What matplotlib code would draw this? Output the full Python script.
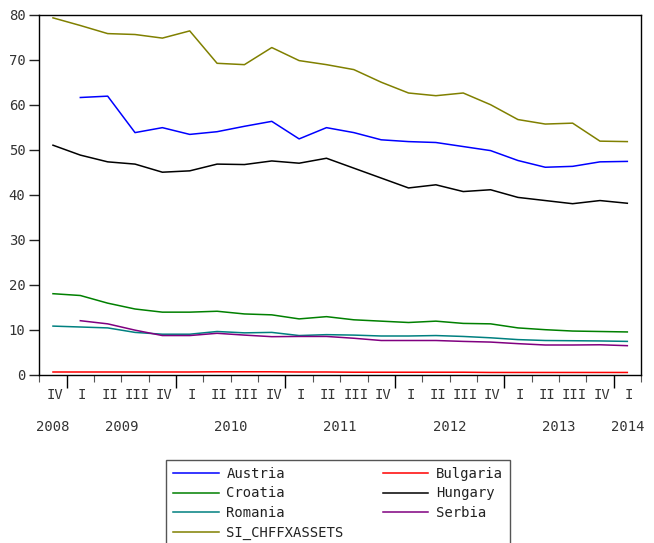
import numpy as np
import matplotlib
matplotlib.use("Agg")
import matplotlib.pyplot as plt

# ---- data ----
quarters = ["IV", "I", "II", "III", "IV", "I", "II", "III", "IV", "I", "II", "III",
            "IV", "I", "II", "III", "IV", "I", "II", "III", "IV", "I"]
years = ["2008", "2009", "2010", "2011", "2012", "2013", "2014"]
year_pos = [0, 2.5, 6.5, 10.5, 14.5, 18.5, 21]
year_bounds = [0.5, 4.5, 8.5, 12.5, 16.5, 20.5]

nan = np.nan
austria = [nan, 61.6, 61.9, 53.8, 54.9, 53.4, 54.0, 55.2, 56.3, 52.4, 54.9,
           53.8, 52.2, 51.8, 51.6, 50.7, 49.8, 47.6, 46.1, 46.3, 47.3, 47.4]
bulgaria = [0.6, 0.6, 0.6, 0.6, 0.6, 0.6, 0.65, 0.65, 0.65, 0.6, 0.6,
            0.55, 0.55, 0.55, 0.55, 0.55, 0.5, 0.5, 0.5, 0.5, 0.5, 0.5]
croatia = [18.0, 17.6, 15.9, 14.6, 13.9, 13.9, 14.1, 13.5, 13.3, 12.4, 12.9,
           12.2, 11.9, 11.6, 11.9, 11.4, 11.3, 10.4, 10.0, 9.7, 9.6, 9.5]
hungary = [51.0, 48.8, 47.3, 46.8, 45.0, 45.3, 46.8, 46.7, 47.5, 47.0, 48.1,
           45.9, 43.7, 41.5, 42.2, 40.7, 41.1, 39.4, 38.7, 38.0, 38.7, 38.1]
romania = [10.8, 10.6, 10.4, 9.4, 9.0, 9.0, 9.6, 9.3, 9.4, 8.7, 8.9,
           8.8, 8.6, 8.6, 8.7, 8.5, 8.2, 7.8, 7.6, 7.55, 7.5, 7.4]
serbia = [nan, 12.0, 11.3, 9.9, 8.7, 8.7, 9.2, 8.8, 8.45, 8.5, 8.5,
          8.1, 7.6, 7.6, 7.6, 7.4, 7.25, 6.9, 6.6, 6.6, 6.65, 6.45]
si_chff = [79.3, 77.6, 75.8, 75.6, 74.8, 76.4, 69.2, 68.9, 72.7, 69.8, 68.9,
           67.8, 65.0, 62.6, 62.0, 62.6, 60.0, 56.7, 55.7, 55.9, 51.9, 51.8]

series = [("Austria", austria, "#0000FF"),
          ("Bulgaria", bulgaria, "#FF0000"),
          ("Croatia", croatia, "#008000"),
          ("Hungary", hungary, "#000000"),
          ("Romania", romania, "#008080"),
          ("Serbia", serbia, "#800080"),
          ("SI_CHFFXASSETS", si_chff, "#808000")]

plt.rcParams['font.family'] = ['DejaVu Sans Mono']
W, H = 654, 543
fig = plt.figure(figsize=(W / 100, H / 100), dpi=100)
ax = fig.add_axes([39.3 / W, 1 - 374.7 / H, (641 - 39.3) / W, (374.7 - 14.7) / H])

x = np.arange(len(quarters))
handles = {}
for name, vals, col in series:
    ln, = ax.plot(x, vals, color=col, lw=1.1, label=name)
    handles[name] = ln

ax.set_xlim(-0.5, len(quarters) - 0.5)
ax.set_ylim(0, 80)
ax.set_yticks(np.arange(0, 81, 10))
ax.tick_params(axis='y', direction='out', length=7, width=1, labelsize=10,
               pad=3, colors='#222222', labelcolor='#333333')
for s in ax.spines.values():
    s.set_linewidth(1.0)

# x ticks: boundaries between quarters (minor), year boundaries (major)
ax.set_xticks(year_bounds)
ax.set_xticks(np.arange(-0.5, len(quarters) + 0.5, 1.0), minor=True)
ax.tick_params(axis='x', which='major', direction='out', length=9, width=1, labelbottom=False)
ax.tick_params(axis='x', which='minor', direction='out', length=5, width=0.8, labelbottom=False,
               color='#555555')

trans = ax.get_xaxis_transform()
for xi, q in zip(x, quarters):
    ax.text(xi + 0.07, -20.3 / 360, q, transform=trans, ha='center', va='center',
            fontsize=10, color='#333333')
for xp, yr in zip(year_pos, years):
    ax.text(xp, -52.3 / 360, yr, transform=trans, ha='center', va='center',
            fontsize=10, color='#333333')

# row-major legend order (matplotlib fills columns first)
order = ["Austria", "Croatia", "Romania", "SI_CHFFXASSETS", "Bulgaria", "Hungary", "Serbia"]
leg = fig.legend([handles[n] for n in order], order,
                 loc='upper left', bbox_to_anchor=(166 / W, 1 - 459.7 / H),
                 ncol=2, fontsize=10, frameon=True, fancybox=False,
                 edgecolor='#555555', framealpha=1, handlelength=3.3,
                 handletextpad=0.55, columnspacing=2.8, borderpad=0.5,
                 labelspacing=0.42, borderaxespad=0)
leg.get_frame().set_linewidth(1.0)
for t in leg.get_texts():
    t.set_color('#222222')

fig.savefig("out.png", dpi=100)
